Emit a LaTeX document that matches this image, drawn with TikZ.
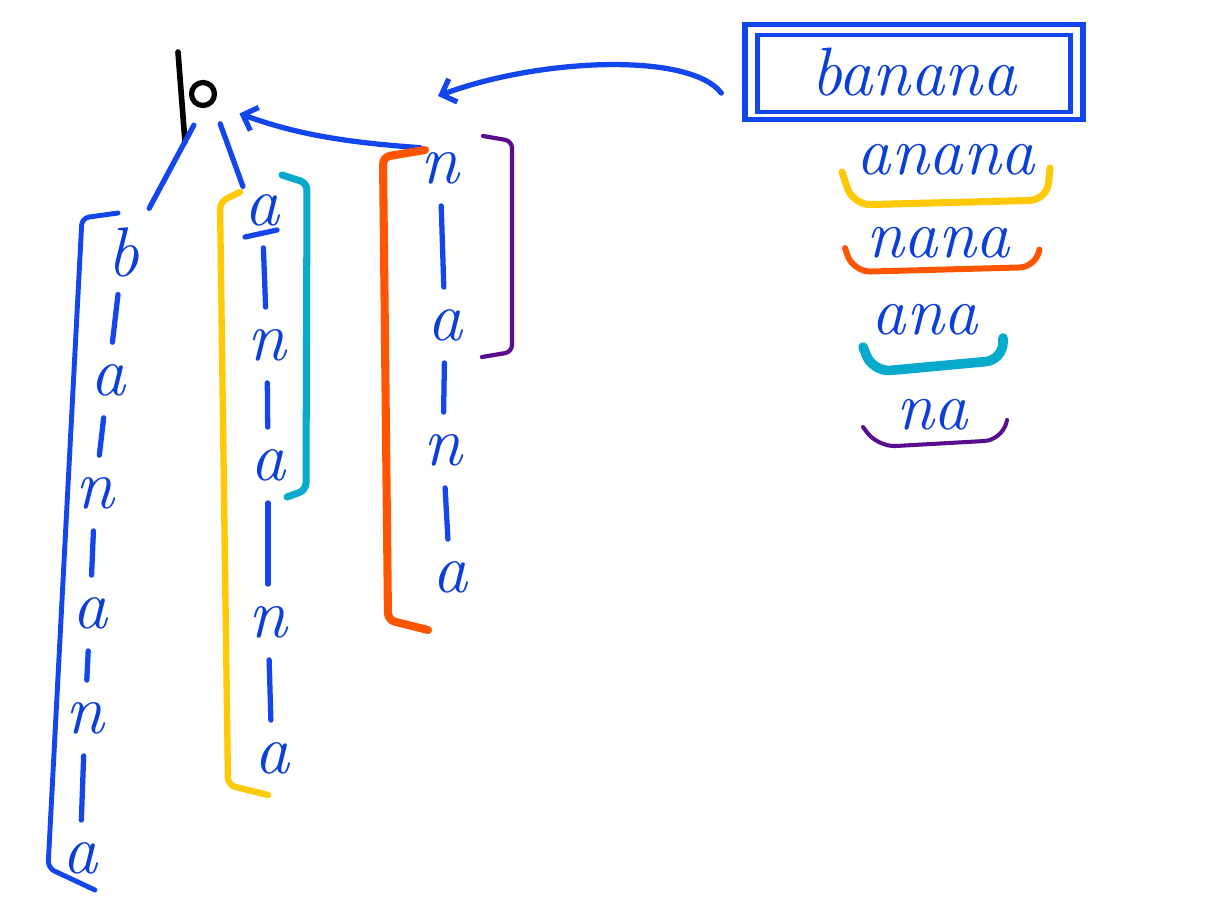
\documentclass[tikz,border=0pt]{standalone}
\usepackage{fontspec}
\usepackage{xcolor}
\usepackage{tikz}
\usetikzlibrary{arrows.meta}
\definecolor{ink}{HTML}{0B3FD9}
\definecolor{pen}{HTML}{1446EE}
\definecolor{sun}{HTML}{FFC905}
\definecolor{rust}{HTML}{FF5500}
\definecolor{sea}{HTML}{07AACB}
\definecolor{plum}{HTML}{5A0C8F}
\newcommand{\hand}{\fontsize{40}{40}\selectfont\itshape}
\newcommand{\handword}{\fontsize{39}{39}\selectfont\itshape}

\begin{document}
\begin{tikzpicture}[x=0.02cm, y=-0.02cm,
    letter/.style={text=ink, font=\hand, inner sep=0pt, minimum width=0.5cm, minimum height=0.8cm},
    edge/.style={draw=pen, line width=3pt, line cap=round, shorten <=10pt, shorten >=10pt},
    link/.style={draw=pen, line width=3pt, line cap=round},
    tip/.style={-{Straight Barb[length=7pt, width=14pt]}},
    bracket/.style={line width=#1, line cap=round, line join=round, rounded corners=4pt},
    brace/.style={line width=#1, line cap=round, line join=round, rounded corners=10pt}
  ]
    \fill[white] (0,0) rectangle (1222,903);
    \useasboundingbox (0,0) rectangle (1222,903);

    \node[draw=black, circle, line width=3pt, minimum size=0.46cm, inner sep=0pt] (root) at (203,94) {};
    \draw[black, line width=3.2pt, line cap=round] ([shift={(-25,-42)}]root.center) -- ([shift={(-18,48)}]root.center);

    \node[letter] (b) at (123,252) {b};
    \node[letter] (ba) at (108,380) {a};
    \node[letter] (ban) at (95,493) {n};
    \node[letter] (bana) at (90,613) {a};
    \node[letter] (banan) at (85,718) {n};
    \node[letter] (banana) at (80,858) {a};

    \node[letter] (a) at (262,210) {a};
    \node[letter] (an) at (267,345) {n};
    \node[letter] (ana) at (268,465) {a};
    \node[letter] (anan) at (268,622) {n};
    \node[letter] (anana) at (272,758) {a};

    \node[letter] (n) at (440,168) {n};
    \node[letter] (na) at (445,325) {a};
    \node[letter] (nan) at (443,450) {n};
    \node[letter] (nana) at (450,577) {a};

    \draw[edge] (b) -- (ba);
    \draw[edge] (ba) -- (ban);
    \draw[edge] (ban) -- (bana);
    \draw[edge] (bana) -- (banan);
    \draw[edge] (banan) -- (banana);
    \draw[edge] (a) -- (an);
    \draw[edge] (an) -- (ana);
    \draw[edge] (ana) -- (anan);
    \draw[edge] (anan) -- (anana);
    \draw[edge] (n) -- (na);
    \draw[edge] (na) -- (nan);
    \draw[edge] (nan) -- (nana);
    \draw[link] ([shift={(-17,27)}]a.center) -- ([shift={(15,20)}]a.center);

    \draw[edge, shorten <=11pt, shorten >=12pt] (root.south) -- (b.north east);
    \draw[edge, shorten <=12pt, shorten >=2pt] (root.south east) -- (a.north west);
    \draw[link, tip, shorten >=16pt] (n.north west) to[bend left=8] (root.south east);

    \draw[pen, bracket=2.8pt] ([shift={(-5,-39)}]b.center) -- ([shift={(-41,-34)}]b.center) -- ([shift={(-32,10)}]banana.center) -- ([shift={(15,32)}]banana.center);
    \draw[sun, bracket=3.6pt] ([shift={(-22,-18)}]a.center) -- ([shift={(-42,-8)}]a.center) -- ([shift={(-44,27)}]anana.center) -- ([shift={(-4,37)}]anana.center);
    \draw[sea, bracket=4pt] ([shift={(20,-35)}]a.center) -- ([shift={(45,-27)}]a.center) -- ([shift={(38,25)}]ana.center) -- ([shift={(19,32)}]ana.center);
    \draw[rust, bracket=4.6pt] ([shift={(-15,-18)}]n.center) -- ([shift={(-57,-11)}]n.center) -- ([shift={(-62,43)}]nana.center) -- ([shift={(-22,53)}]nana.center);
    \draw[plum, bracket=2.4pt] ([shift={(43,-32)}]n.center) -- ([shift={(72,-27)}]n.center) -- ([shift={(67,27)}]na.center) -- ([shift={(37,32)}]na.center);

    \node[draw=pen, line width=3pt, text=ink, font=\handword, minimum width=6.76cm, minimum height=1.9cm] (word) at (914,72) {banana};
    \draw[pen, line width=2.6pt] ([shift={(15,13)}]word.north west) rectangle ([shift={(-15,-10)}]word.south east);
    \coordinate (aim) at (438,96);
    \draw[link, tip] ([xshift=-12pt, yshift=-12pt]word.west) .. controls (690,52) and (540,58) .. (aim);

    \node[text=ink, font=\handword, inner sep=0pt] (lanana) at (946,160) {anana};
    \node[text=ink, font=\handword, inner sep=0pt] (lnana) at (938,243) {nana};
    \node[text=ink, font=\handword, inner sep=0pt] (lana) at (925,320) {ana};
    \node[text=ink, font=\handword, inner sep=0pt] (lna) at (932,415) {na};
    \draw[sun, brace=4pt] ([shift={(-104,12)}]lanana.center) -- ([shift={(-93,45)}]lanana.center) -- ([shift={(101,40)}]lanana.center) -- ([shift={(104,8)}]lanana.center);
    \draw[rust, brace=3.4pt] ([shift={(-93,5)}]lnana.center) -- ([shift={(-85,29)}]lnana.center) -- ([shift={(99,24)}]lnana.center) -- ([shift={(101,9)}]lnana.center);
    \draw[sea, brace=5.5pt] ([shift={(-62,27)}]lana.center) -- ([shift={(-52,52)}]lana.center) -- ([shift={(78,40)}]lana.center) -- ([shift={(78,18)}]lana.center);
    \draw[plum, brace=2.3pt] ([shift={(-69,12)}]lna.center) -- ([shift={(-54,32)}]lna.center) -- ([shift={(70,25)}]lna.center) -- ([shift={(75,5)}]lna.center);
  \end{tikzpicture}
\end{document}
